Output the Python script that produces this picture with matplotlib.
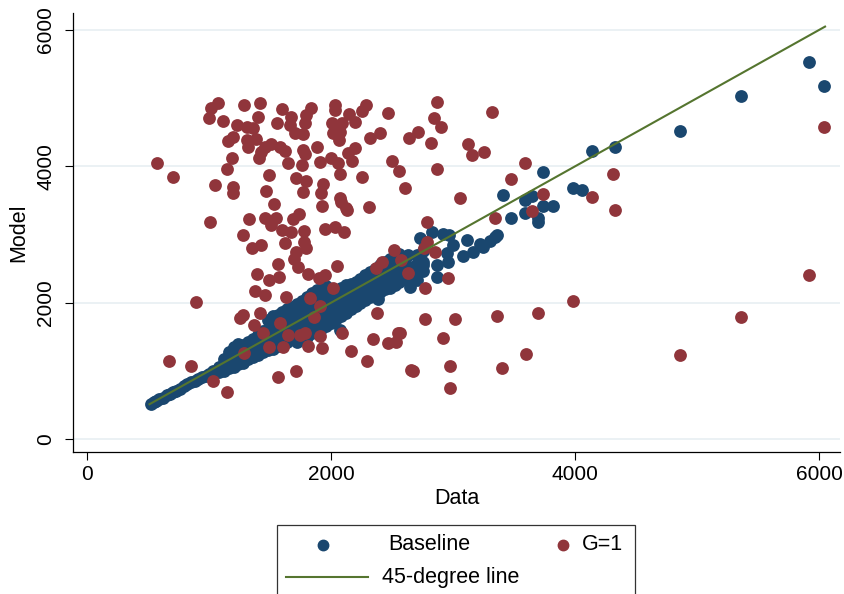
import matplotlib
matplotlib.use("Agg")
import matplotlib.pyplot as plt
from matplotlib.lines import Line2D
from matplotlib.patches import Rectangle

plt.rcParams['font.family'] = ['Liberation Sans', 'DejaVu Sans']

NAVY = '#1a476f'
MAROON = '#90353b'
GREEN = '#55752f'

# Baseline model vs data
base_x = [520, 545, 560, 590, 620, 650, 680, 700, 730, 760, 790, 820, 850, 880, 910, 940, 970, 1000,
          1030, 1030, 1080, 1080, 1120, 1120, 1120, 1160, 1160, 1160, 1200, 1200, 1200,
          1240, 1240, 1240, 1280, 1280, 1280, 1320, 1320, 1320, 1360, 1360, 1360, 1400, 1400, 1400,
          1440, 1440, 1440, 1480, 1480, 1480, 1480, 1520, 1520, 1520, 1520, 1560, 1560, 1560, 1560,
          1600, 1600, 1600, 1600, 1640, 1640, 1640, 1640, 1680, 1680, 1680, 1680,
          1720, 1720, 1720, 1720, 1720, 1760, 1760, 1760, 1760, 1760, 1800, 1800, 1800, 1800, 1800,
          1840, 1840, 1840, 1840, 1840, 1880, 1880, 1880, 1880, 1880, 1920, 1920, 1920, 1920, 1920,
          1960, 1960, 1960, 1960, 1960, 2000, 2000, 2000, 2000, 2040, 2040, 2040, 2040,
          2080, 2080, 2080, 2080, 2120, 2120, 2120, 2120, 2160, 2160, 2160, 2160,
          2200, 2200, 2200, 2200, 2240, 2240, 2240, 2240, 2280, 2280, 2280, 2280,
          2320, 2320, 2320, 2320, 2360, 2360, 2360, 2360, 2400, 2400, 2400, 2400,
          2440, 2440, 2440, 2440, 2480, 2480, 2480, 2480, 2520, 2520, 2520, 2520,
          2560, 2560, 2560, 2560, 2600, 2600, 2600, 2650, 2650, 2700, 2700, 2700, 2750, 2750, 2750,
          2072, 2380,
          2564, 2605, 2630, 2646, 2704, 2753, 2769, 2728, 2827, 2868, 2868, 2917, 2950, 2958, 2966,
          2999, 3081, 3114, 3163, 3220, 3245, 3302, 3343, 3359, 3474, 3409, 3589, 3589, 3646, 3695,
          3695, 3736, 3818, 3736, 3982, 4056, 4138, 4327, 4860, 5360, 5917, 6040]
base_y = [510, 540, 555, 580, 600, 640, 660, 690, 710, 740, 770, 800, 830, 850, 880, 910, 930, 960,
          940, 1000, 980, 1060, 1000, 1100, 1180, 1040, 1150, 1280, 1050, 1200, 1350,
          1100, 1250, 1400, 1120, 1260, 1380, 1170, 1300, 1420, 1200, 1330, 1470, 1230, 1380, 1520,
          1270, 1420, 1580, 1300, 1450, 1620, 1750, 1320, 1480, 1650, 1800, 1360, 1520, 1680, 1820,
          1400, 1560, 1720, 1870, 1430, 1600, 1760, 1900, 1460, 1620, 1780, 1940,
          1420, 1560, 1700, 1850, 1980, 1480, 1620, 1760, 1900, 2020, 1500, 1650, 1800, 1950, 2080,
          1550, 1700, 1850, 2000, 2140, 1580, 1720, 1880, 2040, 2180, 1620, 1760, 1900, 2060, 2200,
          1660, 1800, 1950, 2100, 2240, 1700, 1840, 1990, 2140, 1760, 1900, 2040, 2180,
          1800, 1940, 2080, 2220, 1850, 1990, 2120, 2260, 1900, 2020, 2150, 2280,
          1950, 2060, 2180, 2300, 2000, 2100, 2220, 2340, 2040, 2150, 2270, 2400,
          2080, 2200, 2320, 2450, 2120, 2240, 2360, 2500, 2160, 2280, 2400, 2550,
          2200, 2320, 2440, 2600, 2220, 2350, 2480, 2640, 2260, 2400, 2530, 2680,
          2300, 2440, 2580, 2720, 2340, 2480, 2620, 2380, 2520, 2420, 2560, 2700, 2460, 2600, 2760,
          1599, 2060,
          2333, 2450, 2699, 2230, 2333, 2553, 2890, 2949, 3037, 2553, 2377, 3007, 2729, 2597, 2993,
          2846, 2685, 2919, 2743, 2861, 2817, 2905, 2963, 2993, 3242, 3579, 3506, 3315, 3565, 3242,
          3183, 3418, 3418, 3917, 3682, 3653, 4225, 4284, 4518, 5032, 5536, 5178]

# G=1 model vs data
g1_x = [1072, 1014, 998, 1285, 1416, 1113, 1400, 1597, 1835, 1794, 1671, 1556, 1228, 1310, 1359,
        1662, 1785, 1704, 1769, 1195, 1154, 1310, 1384, 1318, 1457, 1507, 1580, 1621, 1424, 1408,
        1769, 1785, 1884, 1187, 572, 703, 1146, 1646, 1761, 1908, 1490, 1712, 1794, 1047, 1195,
        1195, 1465, 1769, 1933, 1917, 1531, 1925, 1006,
        2031, 2031, 2285, 2253, 2466, 2868, 3318, 2146, 2007, 2089, 2195, 2015, 2072, 2064, 2318,
        2400, 2843, 2900, 2712, 2638, 2819, 3122, 3155, 3253, 2138, 2195, 1998, 2056, 2171, 2499,
        2556, 2868, 2072, 2253, 3474, 2605, 2072, 3056, 2121, 2310,
        3589, 3736, 3646, 3343, 4310, 4138, 4327, 2786, 2786, 2851, 2761, 2630, 2769, 2958, 6040,
        5917, 3982, 2769, 3015, 3359, 3695, 5360, 2564, 2917, 2974, 2671, 3400, 3597, 4860, 2974,
        1326, 1457, 1548, 1687, 1736, 1277, 1507, 1597, 1671, 1777, 1949, 1351, 1424, 1621, 1777,
        1794, 1712, 1695, 1728, 1564, 1392, 1490, 1572, 1810, 1900, 1949, 1375, 1457, 1630, 891,
        1826, 1908, 1277, 1416,
        2080, 2130, 2031, 2105, 2515, 2417, 2367, 2572, 2048, 2015, 2376,
        670, 850, 1031, 1146, 1564, 1712, 1285, 1252, 1367, 1441, 1490, 1580, 1605, 1646, 1745,
        1785, 1810, 1908, 1925, 1859, 2089, 2162, 2294, 2343, 2466, 2531, 2548, 2655]
g1_y = [4929, 4856, 4709, 4900, 4929, 4665, 4724, 4841, 4856, 4753, 4724, 4636, 4606, 4577, 4562,
        4606, 4636, 4489, 4474, 4430, 4372, 4386, 4401, 4284, 4284, 4328, 4284, 4225, 4210, 4122,
        4240, 4181, 4284, 4122, 4049, 3844, 3961, 4049, 4020, 4064, 3873, 3829, 3785, 3726, 3697,
        3609, 3638, 3623, 3741, 3609, 3447, 3418, 3183,
        4900, 4826, 4900, 4812, 4782, 4944, 4797, 4768, 4636, 4636, 4650, 4489, 4504, 4386, 4416,
        4489, 4709, 4577, 4504, 4416, 4342, 4328, 4166, 4210, 4196, 4269, 4122, 4049, 4078, 4078,
        3932, 3961, 3888, 3844, 3814, 3682, 3535, 3535, 3389, 3403,
        4049, 3594, 3345, 3242, 3888, 3550, 3359, 3183, 2890, 2743, 2802, 2435, 2215, 2362, 4577,
        2406, 2024, 1760, 1760, 1804, 1848, 1790, 1555, 1482, 1071, 998, 1042, 1247, 1232, 748,
        3227, 3242, 3242, 3227, 3301, 2993, 3139, 3066, 3037, 3051, 3081, 2802, 2846, 2875, 2890,
        2802, 2743, 2641, 2523, 2567, 2421, 2333, 2377, 2421, 2362, 2406, 2171, 2112, 2083, 2010,
        2068, 1951, 1819, 1848,
        3477, 3359, 3110, 3037, 2773, 2597, 2509, 2626, 2538, 2215, 1848,
        1144, 1071, 851, 689, 910, 998, 1262, 1775, 1672, 1555, 1350, 1702, 1350, 1526, 1526,
        1555, 1364, 1511, 1335, 1790, 1555, 1291, 1144, 1467, 1408, 1423, 1555, 1012]

line_x = [510, 6050]
line_y = [510, 6050]

fig = plt.figure(figsize=(8.45, 5.94), dpi=100)
ax = fig.add_axes([0.0867, 0.2386, 0.9073, 0.739])

ax.scatter(base_x, base_y, s=85, color=NAVY, linewidths=0, zorder=2)
ax.scatter(g1_x, g1_y, s=85, color=MAROON, linewidths=0, zorder=3)
ax.plot(line_x, line_y, color=GREEN, linewidth=1.5, zorder=4)

ax.set_xlim(-115, 6172)
ax.set_ylim(-195, 6245)
ax.set_xticks([0, 2000, 4000, 6000])
ax.set_yticks([0, 2000, 4000, 6000])
ax.tick_params(axis='both', direction='out', length=6, width=0.8, labelsize=15)
ax.tick_params(axis='y', pad=7)
ax.tick_params(axis='x', pad=3)
for lab in ax.get_yticklabels():
    lab.set_rotation(90)
    lab.set_va('center')
ax.yaxis.grid(True, color='#e8eff2', linewidth=1.2)
ax.set_axisbelow(True)
for side in ['top', 'right']:
    ax.spines[side].set_visible(False)
for side in ['left', 'bottom']:
    ax.spines[side].set_linewidth(0.9)

ax.set_xlabel('Data', fontsize=15.5, labelpad=3)
ax.set_ylabel('Model', fontsize=15.5, labelpad=5)

# legend box drawn in figure pixels (Stata-like layout)
W, H = 845.0, 594.0
def fx(px):
    return px / W
def fy(py):
    return 1 - py / H

fig.patches.append(Rectangle((fx(277), fy(620)), fx(635) - fx(277), fy(525) - fy(620),
                             transform=fig.transFigure, fill=False, edgecolor='#333333',
                             linewidth=0.9))
fig.lines.append(Line2D([fx(323)], [fy(545)], marker='o', markersize=7.5, color=NAVY,
                        linestyle='none', transform=fig.transFigure))
fig.lines.append(Line2D([fx(563)], [fy(545)], marker='o', markersize=7.5, color=MAROON,
                        linestyle='none', transform=fig.transFigure))
fig.lines.append(Line2D([fx(286), fx(368)], [fy(577), fy(577)], color=GREEN, linewidth=1.5,
                        transform=fig.transFigure))
fig.text(fx(388), fy(545), 'Baseline', fontsize=15.5, va='center', ha='left')
fig.text(fx(582), fy(545), 'G=1', fontsize=15.5, va='center', ha='left')
fig.text(fx(382), fy(577), '45-degree line', fontsize=15.5, va='center', ha='left')

fig.savefig('out.png', dpi=100)
